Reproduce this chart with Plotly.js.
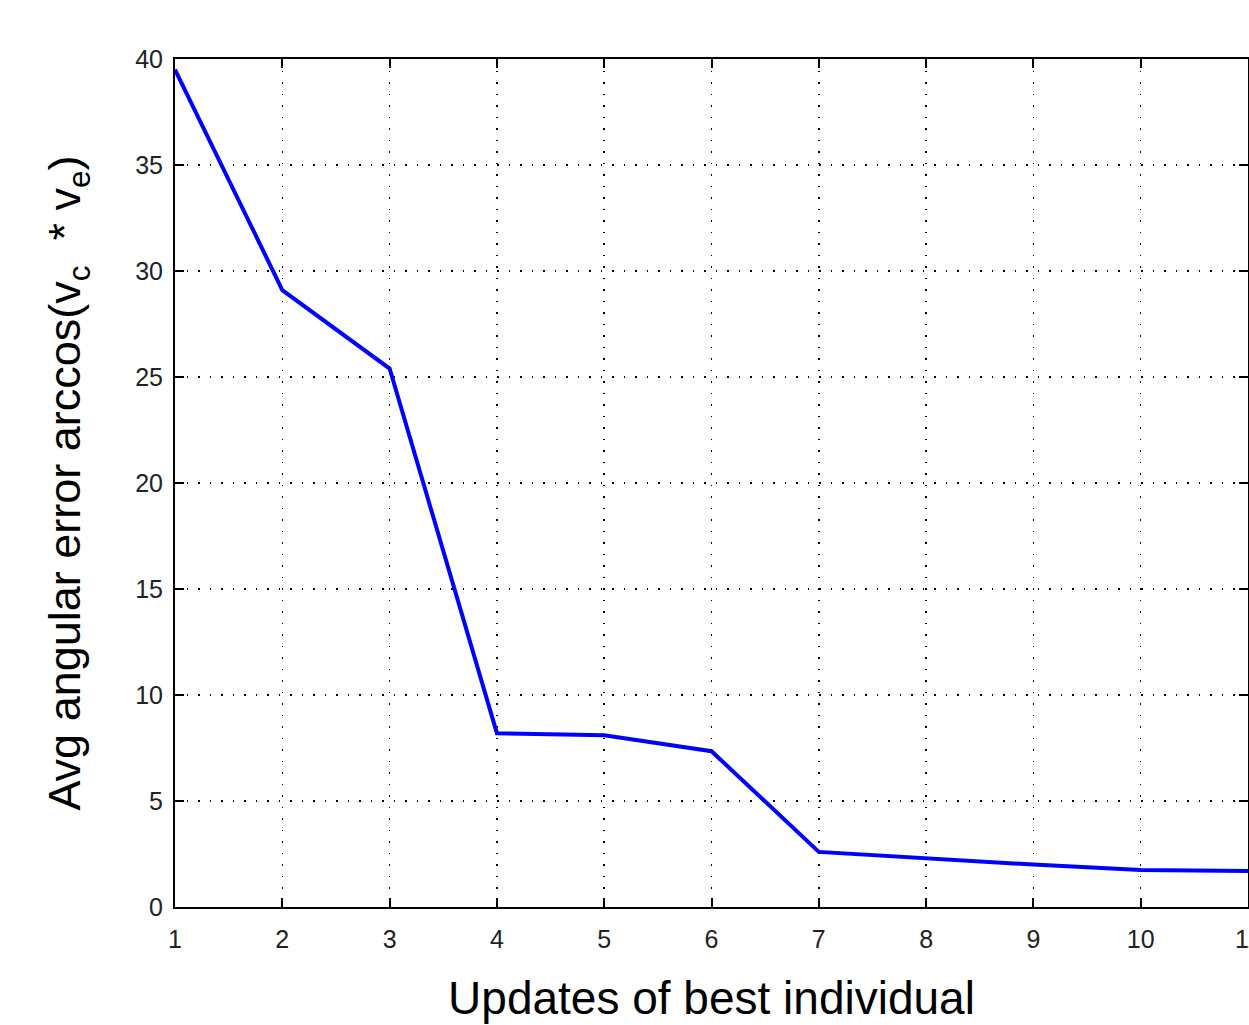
<!DOCTYPE html>
<html>
<head>
<meta charset="utf-8">
<script src="https://cdn.plot.ly/plotly-3.0.1.min.js"></script>
<style>html,body{margin:0;padding:0;background:#fff;}#chart{width:1249px;height:1025px;}</style>
</head>
<body>
<div id="chart"></div>
<script>
const updates = [1, 2, 3, 4, 5, 6, 7, 8, 9, 10, 11];
const avgError = [39.5, 29.1, 25.4, 8.2, 8.1, 7.35, 2.6, 2.3, 2.0, 1.75, 1.7];
const xTicks = [1, 2, 3, 4, 5, 6, 7, 8, 9, 10, 11];
const yTicks = [0, 5, 10, 15, 20, 25, 30, 35, 40];
const xTitle = "Updates of best individual";
const yTitle = "Avg angular error arccos(v<sub>c</sub>  * v<sub>e</sub>)";

const axisCommon = {
  showline: true, linecolor: '#000', linewidth: 2, mirror: 'ticks',
  ticks: 'inside', ticklen: 9, tickwidth: 2, tickcolor: '#000',
  showgrid: true, gridcolor: '#000', gridwidth: 1.5, griddash: '1.5px,10px',
  zeroline: false, automargin: false, ticklabeloverflow: 'allow',
  tickfont: {family: 'Liberation Sans, Arial, sans-serif', size: 25, color: '#222'}
};

Plotly.newPlot('chart', [{
  x: updates, y: avgError, type: 'scatter', mode: 'lines',
  line: {color: '#0000ff', width: 4}
}], {
  width: 1249, height: 1025,
  margin: {l: 175, r: 1, t: 59, b: 118},
  paper_bgcolor: '#fff', plot_bgcolor: '#fff',
  showlegend: false,
  xaxis: Object.assign({}, axisCommon, {
    range: [1, 11], tickvals: xTicks, ticktext: xTicks.map(String),
    ticklabelstandoff: 9,
    title: {text: xTitle, font: {family: 'Liberation Sans, Arial, sans-serif', size: 46, color: '#000'}, standoff: 30}
  }),
  yaxis: Object.assign({}, axisCommon, {
    range: [0, 40], tickvals: yTicks, ticktext: yTicks.map(String),
    ticklabelstandoff: 5,
    title: {text: yTitle, font: {family: 'Liberation Sans, Arial, sans-serif', size: 45, color: '#000'}, standoff: 40}
  })
}, {displayModeBar: false, staticPlot: true});
</script>
</body>
</html>
